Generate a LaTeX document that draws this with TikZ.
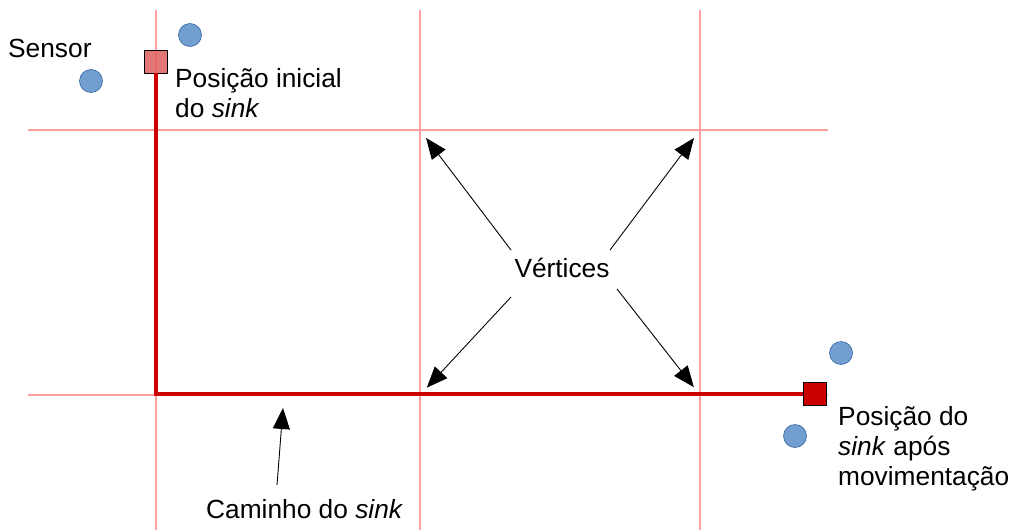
\documentclass[tikz,border=0pt]{standalone}
\usepackage{fontspec}
\setmainfont{Liberation Sans}
\usetikzlibrary{arrows.meta}
\definecolor{gridred}{HTML}{FF9E9E}
\definecolor{pathred}{HTML}{CC0000}
\definecolor{startred}{HTML}{E06666}
\definecolor{sensorfill}{HTML}{729FCF}
\definecolor{sensordraw}{HTML}{3465A4}
\begin{document}
\begin{tikzpicture}[x=1pt,y=-1pt,
  gridline/.style={draw=gridred,line width=2pt},
  sinkpath/.style={draw=pathred,line width=4pt},
  sensornode/.style={circle,fill=sensorfill,draw=sensordraw,line width=0.6pt,minimum size=23pt,inner sep=0pt},
  sinkbox/.style={rectangle,draw=black,line width=0.8pt,minimum size=23pt,inner sep=0pt},
  label/.style={inner sep=0pt,font=\fontsize{26.3}{30}\selectfont,align=left},
  pointer/.style={draw=black,line width=0.9pt,-{Triangle[length=21pt,width=17pt]}}]
\useasboundingbox (0,0) rectangle (1012,530);

% grid of the region
\draw[gridline] (156,10) -- (156,530);
\draw[gridline] (420,10) -- (420,530);
\draw[gridline] (700,10) -- (700,530);
\draw[gridline] (28,130) -- (828,130);
\draw[gridline] (28,395) -- (828,395);

% grid vertices
\coordinate (v11) at (420,130);
\coordinate (v12) at (700,130);
\coordinate (v21) at (420,395);
\coordinate (v22) at (700,395);

% sink path and positions
\node[sinkbox,fill=startred,fill opacity=0.9] (sinkA) at (156,61.5) {};
\node[sinkbox,fill=pathred] (sinkB) at (815,394) {};
\coordinate (turn) at (156,394);
\draw[sinkpath] (sinkA.south) -- (turn) -- (sinkB.west);

% sensors
\node[sensornode] (s1) at (190,35) {};
\node[sensornode] (s2) at (91,81) {};
\node[sensornode] (s3) at (841,353) {};
\node[sensornode] (s4) at (795,436) {};

% labels (multi-line nodes are placed by the baseline of their last line)
\node[label,anchor=base west] (lsensor) at (8,57) {Sensor};
\node[label,anchor=base west] (lstart) at (175,117) {Posição inicial\\do \textit{sink}};
\node[label,anchor=base west] (lend) at (838,485) {Posição do\\\textit{sink} após\\movimentação};
\node[label,anchor=base] (lvert) at (562,277) {Vértices};
\node[label,anchor=base west] (lpath) at (206,518) {Caminho do \textit{sink}};

% pointers from the labels
\coordinate (p1) at (511,250);
\coordinate (p2) at (610,250);
\coordinate (p3) at (511,297);
\coordinate (p4) at (617,289);
\coordinate (p5) at (277,485);
\coordinate (t5) at (283,408);
\draw[pointer,shorten >=10pt] (p1) -- (v11);
\draw[pointer,shorten >=10pt] (p2) -- (v12);
\draw[pointer,shorten >=10pt] (p3) -- (v21);
\draw[pointer,shorten >=10pt] (p4) -- (v22);
\draw[pointer] (p5) -- (t5);
\end{tikzpicture}
\end{document}
